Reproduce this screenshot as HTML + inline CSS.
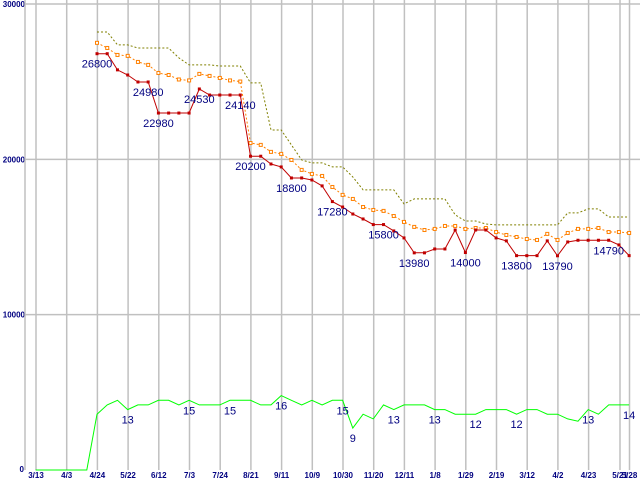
<!DOCTYPE html>
<html><head><meta charset="utf-8"><style>
html,body{margin:0;padding:0;background:#fff;}
svg{display:block;}
.tk{font-family:"Liberation Sans",sans-serif;font-size:8px;font-weight:bold;fill:#000080;}
.lb{font-family:"Liberation Sans",sans-serif;font-size:11px;fill:#000080;}
</style></head><body>
<svg id="chart" width="640" height="480" viewBox="0 0 640 480">
<g id="grid"></g>
<g id="axes"></g>
<g id="series"></g>
<g id="labels"></g>
</svg>
<script>
const categories = ["3/13","4/3","4/24","5/22","6/12","7/3","7/24","8/21","9/11","10/9","10/30","11/20","12/11","1/8","1/29","2/19","3/12","4/2","4/23","5/21","5/28"];
const yTicks = [0,10000,20000,30000];
const lowPrice = [26800,26800,25760,25430,24980,24980,22980,22980,22980,22980,24530,24140,24140,24140,24140,20200,20200,19700,19510,18800,18800,18670,18290,17280,16930,16480,16160,15800,15800,15390,14940,13980,13980,14230,14230,15450,14000,15450,15450,14940,14750,13800,13800,13800,14750,13790,14680,14790,14790,14790,14790,14490,13800];
const avgPrice = [27500,27170,26720,26660,26270,26080,25560,25430,25140,25080,25500,25370,25240,25080,25010,21050,20930,20480,20350,19960,19320,19060,18930,18220,17710,17450,16930,16740,16680,16350,15970,15650,15450,15520,15710,15710,15520,15580,15580,15320,15130,15000,14870,14810,15200,14810,15260,15520,15520,15580,15320,15320,15260];
const highPrice = [28200,28200,27370,27370,27170,27170,27170,27170,26530,26080,26080,26080,26010,26010,26010,24920,24920,21890,21890,20930,19960,19770,19770,19510,19510,18870,18030,18030,18030,18030,17130,17450,17450,17450,17450,16420,16030,16030,15840,15780,15780,15780,15780,15780,15780,15780,16550,16550,16810,16810,16290,16290,16290];
const shopCount = [0,0,0,0,0,0,12,14,15,13,14,14,15,15,14,15,14,14,14,15,15,15,14,14,16,15,14,15,14,15,15,9,12,11,14,13,14,14,14,13,13,12,12,12,13,13,13,12,13,13,12,12,11,10.5,13,12,14,14,14];
const lowLabelIdx = [0,5,6,10,14,15,19,23,28,31,36,41,45,50];
const countLabelIdx = [9,15,19,24,30,31,35,39,43,47,54,58];

const NS="http://www.w3.org/2000/svg";
const L=25,B=470,T=4,catX0=36,catStep=30.7;
const ptStep=catStep/3, ptX0=97;
function yScale(v){return B-(v/30000)*(B-T);}
function cScale(v){return B-v*4.65;}
function xPt(i){return ptX0+i*ptStep;}
function xCat(i){return i<19?catX0+i*catStep:(i==19?620:629.5);}
function mk(tag,attrs,parent){const e=document.createElementNS(NS,tag);for(const k in attrs)e.setAttribute(k,attrs[k]);parent.appendChild(e);return e;}
const grid=document.getElementById('grid'),axes=document.getElementById('axes'),ser=document.getElementById('series'),lab=document.getElementById('labels');

yTicks.forEach(v=>{
  const y=yScale(v);
  if(v>0){const g=mk('line',{x1:L,x2:640,y1:y,y2:y,stroke:'#c0c0c0','stroke-width':1.5},grid);
  
  }
  const t=mk('text',{x:v==0?24:25,y:v==0?B+2:y+3,'text-anchor':'end',class:'tk'},axes);
  t.textContent=String(v);
  
  
});
categories.forEach((c,i)=>{
  const x=xCat(i);
  const g=mk('line',{x1:x,x2:x,y1:0,y2:B,stroke:'#c0c0c0','stroke-width':1.5},grid);
  
  
  const t=mk('text',{x:x,y:B+8,'text-anchor':'middle',class:'tk'},axes);
  t.textContent=c;
  
  
});
const ax=mk('line',{x1:L,x2:L,y1:0,y2:B,stroke:'#c0c0c0','stroke-width':1.5},axes);



function poly(arr,xf,yf,attrs,name){
  const pts=arr.map((v,i)=>xf(i).toFixed(1)+','+yf(v).toFixed(1)).join(' ');
  const p=mk('polyline',Object.assign({points:pts,fill:'none'},attrs),ser);
  
  
}
poly(highPrice,xPt,yScale,{stroke:'#808000','stroke-width':1,'stroke-dasharray':'2,2'},'high-price-line');
poly(avgPrice,xPt,yScale,{stroke:'#ff8000','stroke-width':1,'stroke-dasharray':'2,2'},'avg-price-line');
avgPrice.forEach((v,i)=>{
  const r=mk('rect',{x:xPt(i)-1.5,y:yScale(v)-1.5,width:3,height:3,fill:'#fff',stroke:'#ff8000','stroke-width':1},ser);
  
  
});
poly(lowPrice,xPt,yScale,{stroke:'#c00000','stroke-width':1},'low-price-line');
lowPrice.forEach((v,i)=>{
  const r=mk('rect',{x:xPt(i)-1.5,y:yScale(v)-1.5,width:3,height:3,fill:'#c00000'},ser);
  
  
});
const cx=i=>xPt(i-6);
poly(shopCount,cx,cScale,{stroke:'#00ff00','stroke-width':1},'shop-count-line');

lowLabelIdx.forEach(i=>{
  const t=mk('text',{x:xPt(i),y:yScale(lowPrice[i])+14,'text-anchor':'middle',class:'lb'},lab);
  t.textContent=String(lowPrice[i]);
  
  
});
countLabelIdx.forEach(i=>{
  const t=mk('text',{x:cx(i),y:cScale(shopCount[i])+14,'text-anchor':'middle',class:'lb'},lab);
  t.textContent=String(Math.round(shopCount[i]));
  
  
});
</script>
</body></html>
